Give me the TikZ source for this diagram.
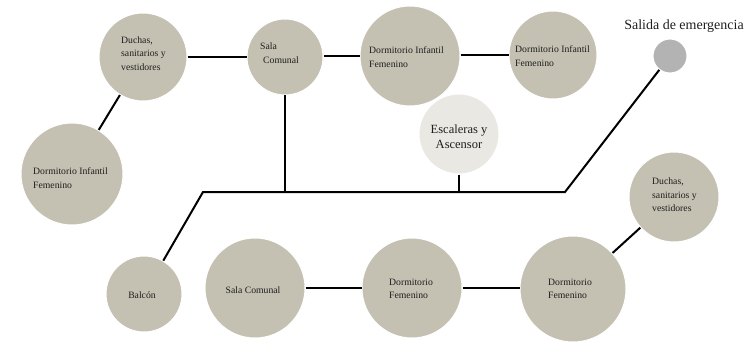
\documentclass[tikz,border=0pt]{standalone}
\usepackage{fontspec}
\setmainfont{Liberation Serif}
\definecolor{tan}{RGB}{196,193,178}
\definecolor{pale}{RGB}{233,232,227}
\definecolor{exitgray}{RGB}{179,179,179}
\definecolor{ink}{RGB}{30,30,30}
\begin{document}
\begin{tikzpicture}[x=1pt,y=-1pt,
  room/.style={circle,fill=tan,draw=white,line width=1pt,inner sep=0pt,minimum size=#1},
  lbl/.style={anchor=west,align=left,inner sep=0pt,text=ink,font=\fontsize{9.7}{13.5}\selectfont},
  clbl/.style={anchor=center,align=center,inner sep=0pt,text=ink,font=\fontsize{9.7}{13.5}\selectfont},
  link/.style={line width=2pt,black}]
\useasboundingbox (0,0) rectangle (754,342);
% rooms
\node[room=88pt]  (duchasA) at (143,57) {};
\node[room=76pt]  (salaA)   at (285,57) {};
\node[room=100pt] (infM)    at (410,56) {};
\node[room=88pt]  (infR)    at (553,55) {};
\node[room=80pt,fill=pale] (esc) at (459,134) {};
\node[room=34pt,fill=exitgray] (exit) at (670,56) {};
\node[room=102pt] (infL)    at (72,174) {};
\node[room=76pt]  (balcon)  at (144,294) {};
\node[room=100pt] (salaB)   at (255,288) {};
\node[room=100pt] (femM)    at (412,288) {};
\node[room=106pt] (femR)    at (573,289) {};
\node[room=90pt]  (duchasB) at (674,197) {};
% bus corners
\coordinate (bl) at (203,192);
\coordinate (br) at (565,192);
% connectors
\draw[link] (duchasA) -- (salaA);
\draw[link] (salaA.east |- 0,56.5) -- (infM.west |- 0,56.5);
\draw[link] (infM.east |- 0,55.5) -- (infR.west |- 0,55.5);
\draw[link] (duchasA) -- (infL);
\draw[link] (salaA) -- (salaA |- bl);
\draw[link] (esc) -- (esc |- bl);
\draw[link] (balcon) -- (bl) -- (br) -- (exit);
\draw[link] (salaB) -- (femM);
\draw[link] (femM.east |- 0,288) -- (femR.west |- 0,288);
\draw[link] (femR) -- (duchasB);
% labels
\node[lbl] (tDuchasA) at (121,53.5) {Duchas,\\sanitarios y\\vestidores};
\node[lbl] (tSalaA) at (260,53) {Sala\\\hspace*{3pt}Comunal};
\node[lbl] (tInfM) at (369,57) {Dormitorio Infantil\\Femenino};
\node[lbl] (tInfR) at (515,56) {Dormitorio Infantil\\Femenino};
\node[clbl,font=\fontsize{12.5}{15}\selectfont] (tEsc) at (459,137) {Escaleras y\\Ascensor};
\node[clbl,font=\fontsize{14}{16}\selectfont] (tExit) at (684,26) {Salida de emergencia};
\node[lbl] (tInfL) at (33,178) {Dormitorio Infantil\\Femenino};
\node[clbl] (tBalcon) at (142,295) {Balcón};
\node[clbl] (tSalaB) at (253,290) {Sala Comunal};
\node[lbl] (tFemM) at (389,289) {Dormitorio\\Femenino};
\node[lbl] (tFemR) at (548,289) {Dormitorio\\Femenino};
\node[lbl] (tDuchasB) at (652,195) {Duchas,\\sanitarios y\\vestidores};
\end{tikzpicture}
\end{document}
